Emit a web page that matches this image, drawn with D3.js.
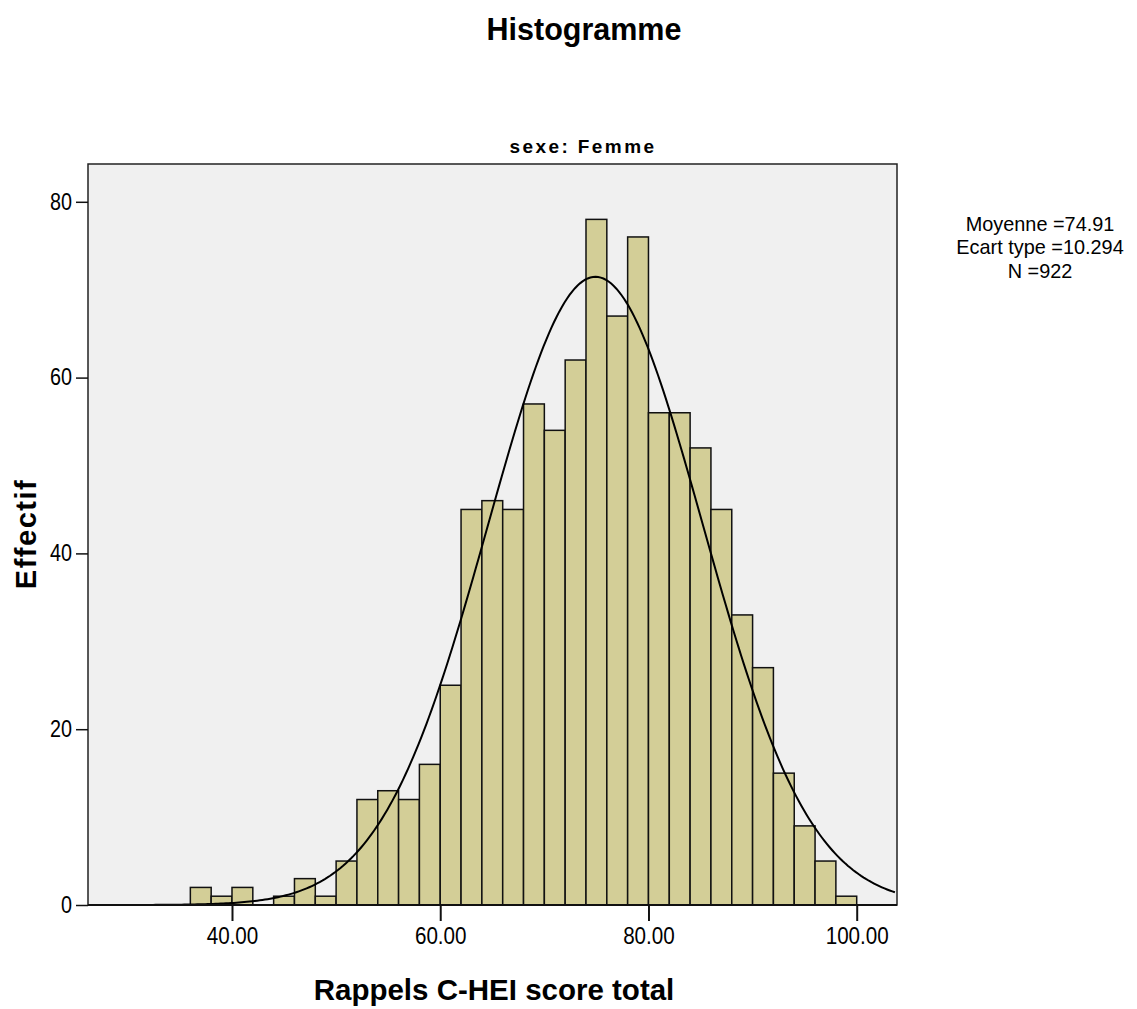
<!DOCTYPE html>
<html>
<head>
<meta charset="utf-8">
<script src="https://cdn.jsdelivr.net/npm/d3@7"></script>
<style>
  body { margin: 0; background: #fff; }
  text { font-family: "Liberation Sans", Arial, sans-serif; }
  .bold { font-weight: bold; }
</style>
</head>
<body>
<div id="chart-area"></div>
<script>
// bin lower edges (width 2) and counts
var binStarts = [36,38,40,42,44,46,48,50,52,54,56,58,60,62,64,66,68,70,72,74,76,78,80,82,84,86,88,90,92,94,96,98];
var counts    = [2,1,2,0,1,3,1,5,12,13,12,16,25,45,46,45,57,54,62,78,67,76,56,56,52,45,33,27,15,9,5,1];
var binWidth = 2;
var xTicks = [40, 60, 80, 100];
var yTicks = [0, 20, 40, 60, 80];
var mean = 74.91, sd = 10.294, n = 922;
var statsLines = ["Moyenne =74.91", "Ecart type =10.294", "N =922"];

var W = 1137, H = 1009;
var plot = { left: 88, right: 897, top: 164, bottom: 905 };

var svg = d3.select("#chart-area")
  .append("svg")
  .attr("width", W)
  .attr("height", H);

var x = d3.scaleLinear()
  .domain([26.17, 103.87])
  .range([plot.left, plot.right]);

var y = d3.scaleLinear()
  .domain([0, 84.3])
  .range([plot.bottom, plot.top]);

// plot background
svg.append("rect")
  .attr("x", plot.left).attr("y", plot.top)
  .attr("width", plot.right - plot.left)
  .attr("height", plot.bottom - plot.top)
  .attr("fill", "#f0f0f0")
  .attr("stroke", "#222")
  .attr("stroke-width", 1.5);

var bins = binStarts.map(function(s, i) { return { x0: s, x1: s + binWidth, count: counts[i] }; });

svg.append("g")
  .selectAll("rect")
  .data(bins.filter(function(d) { return d.count > 0; }))
  .enter()
  .append("rect")
    .attr("x", function(d) { return x(d.x0); })
    .attr("y", function(d) { return y(d.count); })
    .attr("width", function(d) { return x(d.x1) - x(d.x0); })
    .attr("height", function(d) { return y(0) - y(d.count); })
    .attr("fill", "#d3ce97")
    .attr("stroke", "#111")
    .attr("stroke-width", 1.5);

// normal curve from the stats
var scaleN = n * binWidth / (sd * Math.sqrt(2 * Math.PI));
var curvePts = d3.range(x.domain()[0], x.domain()[1] + 0.001, 0.25).map(function(v) {
  return [v, scaleN * Math.exp(-0.5 * Math.pow((v - mean) / sd, 2))];
});
svg.append("path")
  .datum(curvePts)
  .attr("fill", "none")
  .attr("stroke", "#000")
  .attr("stroke-width", 2)
  .attr("d", d3.line()
    .x(function(d) { return x(d[0]); })
    .y(function(d) { return y(d[1]); }));

// baseline over the bars
svg.append("line")
  .attr("x1", plot.left).attr("x2", plot.right)
  .attr("y1", plot.bottom).attr("y2", plot.bottom)
  .attr("stroke", "#111").attr("stroke-width", 2);

// axes
var xAxis = d3.axisBottom(x)
  .tickValues(xTicks)
  .tickSize(16)
  .tickPadding(6)
  .tickFormat(d3.format(".2f"));
var xg = svg.append("g")
  .attr("transform", "translate(0," + plot.bottom + ")")
  .call(xAxis);
xg.select(".domain").remove();
xg.selectAll(".tick line").attr("stroke", "#111").attr("stroke-width", 2);
xg.selectAll(".tick text")
  .attr("font-size", 24)
  .attr("fill", "#000")
  .attr("transform", "scale(0.86,1)");

var yAxis = d3.axisLeft(y)
  .tickValues(yTicks)
  .tickSize(12)
  .tickPadding(3);
var yg = svg.append("g")
  .attr("transform", "translate(" + plot.left + ",0)")
  .call(yAxis);
yg.select(".domain").remove();
yg.selectAll(".tick line").attr("stroke", "#111").attr("stroke-width", 1.5);
yg.selectAll(".tick text")
  .attr("font-size", 23)
  .attr("fill", "#000")
  .attr("x", -16 / 0.86)
  .attr("transform", "scale(0.86,1)");

// titles
svg.append("text")
  .attr("class", "bold")
  .attr("x", 584).attr("y", 40)
  .attr("text-anchor", "middle")
  .attr("font-size", 30.5)
  .text("Histogramme");

svg.append("text")
  .attr("class", "bold")
  .attr("x", 583).attr("y", 153)
  .attr("text-anchor", "middle")
  .attr("font-size", 19)
  .attr("letter-spacing", 2.4)
  .text("sexe: Femme");

svg.append("text")
  .attr("class", "bold")
  .attr("x", 494).attr("y", 1000)
  .attr("text-anchor", "middle")
  .attr("font-size", 29.5)
  .text("Rappels C-HEI score total");

svg.append("text")
  .attr("class", "bold")
  .attr("transform", "translate(36,534) rotate(-90)")
  .attr("text-anchor", "middle")
  .attr("font-size", 29)
  .attr("letter-spacing", 1.5)
  .text("Effectif");

// stats box
svg.append("g")
  .attr("transform", "translate(1040,0) scale(0.97,1)")
  .selectAll("text")
  .data(statsLines)
  .enter()
  .append("text")
    .attr("x", 0)
    .attr("y", function(d, i) { return 231 + i * 23.5; })
    .attr("text-anchor", "middle")
    .attr("font-size", 20.5)
    .text(function(d) { return d; });
</script>
</body>
</html>
